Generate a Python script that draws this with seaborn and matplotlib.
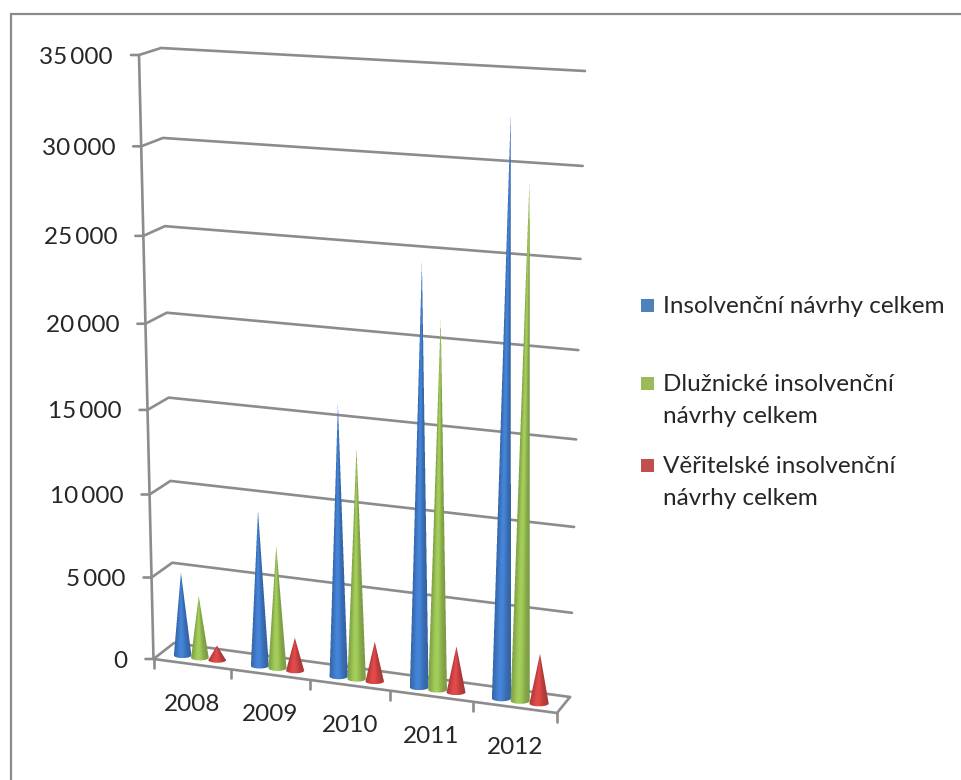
import numpy as np
import pandas as pd
import seaborn as sns
import matplotlib
matplotlib.use("Agg")
import matplotlib.pyplot as plt
from matplotlib.patches import Rectangle

# ---- data ----
years = ["2008", "2009", "2010", "2011", "2012"]
celkem = [5100, 9400, 16100, 24500, 32600]
dluznicke = [3800, 7400, 13700, 21500, 29500]
veritelske = [900, 2000, 2400, 2750, 2950]
series_names = ["Insolvenční návrhy celkem",
                "Dlužnické insolvenční\nnávrhy celkem",
                "Věřitelské insolvenční\nnávrhy celkem"]
y_ticks = [0, 5000, 10000, 15000, 20000, 25000, 30000, 35000]
y_tick_labels = ["0", "5\u2009000", "10\u2009000", "15\u2009000", "20\u2009000",
                 "25\u2009000", "30\u2009000", "35\u2009000"]

# ---- styles ----
COLORS = ["#4F81BD", "#9BBB59", "#C0504D"]
CONE_MID = [(0.26, 0.50, 0.82), (0.62, 0.78, 0.34), (0.86, 0.28, 0.28)]
GRID = "#8c8c8c"
TEXT = "#262626"
VMAX = 35000.0
NCAT = 5

sns.set_theme(style="white")
plt.rcParams["font.family"] = ["Lato", "DejaVu Sans"]

W, H = 961, 780
fig = plt.figure(figsize=(W / 100, H / 100), dpi=100, facecolor="white")
ax = fig.add_axes([0, 0, 1, 1])
ax.set_xlim(0, W)
ax.set_ylim(H, 0)
ax.axis("off")


def homography(dst):
    """Plane (category u, value v) to picture, from its four corners."""
    src = [(0, 0), (0, VMAX), (NCAT, 0), (NCAT, VMAX)]
    A, b = [], []
    for (u, v), (x, y) in zip(src, dst):
        v = v / VMAX
        A.append([u, v, 1, 0, 0, 0, -u * x, -v * x]); b.append(x)
        A.append([0, 0, 0, u, v, 1, -u * y, -v * y]); b.append(y)
    h = np.linalg.solve(np.array(A, float), np.array(b, float))
    return np.append(h, 1).reshape(3, 3)


FRONT = homography([(153.5, 659), (139, 55), (557, 713), (571, 78)])
BACK = homography([(174, 643), (161, 48), (570, 697), (585, 71)])


def project(u, v, depth=0.0):
    """depth 0 = front plane, 1 = back wall."""
    out = []
    for M in (FRONT, BACK):
        p = M @ np.array([u, v / VMAX, 1.0])
        out.append(p[:2] / p[2])
    return (1 - depth) * out[0] + depth * out[1]


# ---- frame of the picture ----
ax.plot([11, 11, W], [H, 14, 14], color="#8a8a8a", lw=1.6, solid_joinstyle="miter")

# ---- walls, floor and ticks as one long table for seaborn ----
rows = []


def add(name, pts):
    for p in pts:
        rows.append({"line": name, "x": p[0], "y": p[1]})


for t in y_ticks:
    add(f"g{t}", [project(0, t, 0) + np.array([-8, 0]), project(0, t, 0),
                  project(0, t, 1), project(NCAT, t, 1)])
add("axis", [project(0, 0, 0), project(0, VMAX, 0)])
add("front", [project(0, 0, 0), project(NCAT, 0, 0), project(NCAT, 0, 1)])
for i in range(NCAT + 1):
    p = project(i, 0, 0)
    add(f"t{i}", [p, p + np.array([0, 9])])
lines = pd.DataFrame(rows)
sns.lineplot(data=lines, x="x", y="y", units="line", estimator=None, sort=False,
             color=GRID, lw=1.9, ax=ax, legend=False, zorder=1)


# ---- cones: shaded across their width, sampled finer than a pixel ----
SS = 4


def cone(u, value, rgb, z):
    depth = 0.40
    base = project(u, 0, depth)
    tip = project(u, value, depth)
    a = (project(u + 0.115, 0, depth) - project(u - 0.115, 0, depth)) / 2
    hw = a[0]
    b = 0.3 * hw
    x0 = int(np.floor(min(tip[0], base[0] - hw))) - 2
    x1 = int(np.ceil(max(tip[0], base[0] + hw))) + 2
    y0 = int(np.floor(tip[1])) - 1
    y1 = int(np.ceil(base[1] + b)) + 2
    xs = x0 + (np.arange((x1 - x0) * SS) + 0.5) / SS
    ys = y0 + (np.arange((y1 - y0) * SS) + 0.5) / SS
    X, Y = np.meshgrid(xs, ys)
    t = (Y - tip[1]) / (base[1] - tip[1])
    xc = tip[0] + (base[0] - tip[0]) * np.clip(t, 0, 1)
    dx = X - xc
    width = hw * np.clip(t, 1e-6, None)
    c = np.clip(dx / width, -1, 1)
    above = (Y >= tip[1]) & (Y <= base[1]) & (np.abs(dx) <= width)
    ell = ((X - base[0]) / hw) ** 2 + ((Y - base[1]) / b) ** 2 <= 1
    mask = above | ell
    light = 0.78 + 0.26 * np.exp(-((c + 0.15) / 0.6) ** 2)
    rgba = np.zeros(mask.shape + (4,))
    for k in range(3):
        rgba[..., k] = np.minimum(1, rgb[k] * light) * mask
    rgba[..., 3] = mask
    h, w = y1 - y0, x1 - x0
    rgba = rgba.reshape(h, SS, w, SS, 4).mean(axis=(1, 3))
    al = rgba[..., 3:]
    rgba[..., :3] = np.where(al > 0, rgba[..., :3] / np.maximum(al, 1e-6), 0)
    ax.imshow(rgba, extent=(x0, x1, y1, y0), origin="upper", aspect="auto",
              interpolation="nearest", zorder=z)


offsets = [-0.225, 0.0, 0.225]
for s, values in enumerate([celkem, dluznicke, veritelske]):
    for i, val in enumerate(values):
        cone(i + 0.5 + offsets[s], val, CONE_MID[s], 3 + s + i * 3)

ax.set_xlim(0, W)
ax.set_ylim(H, 0)
ax.axis("off")

# ---- tick labels ----
FS = 17.5
for t, lab in zip(y_ticks, y_tick_labels):
    p = project(0, t, 0)
    ax.text(p[0] - 26, p[1] + 2, lab, ha="right", va="center", fontsize=FS, color=TEXT)
for i, lab in enumerate(years):
    p = project(i + 0.5, 0, 0)
    ax.text(p[0], p[1] + 40, lab, ha="center", va="center", fontsize=FS, color=TEXT)

# ---- legend ----
LEG_Y = [305, 383, 465]
for name, col, y in zip(series_names, COLORS, LEG_Y):
    ax.add_patch(Rectangle((641, y - 6.5), 13, 13, facecolor=col, edgecolor="none", zorder=30))
    ax.text(663, y - 9, name, ha="left", va="top", fontsize=FS, color=TEXT,
            linespacing=1.65)

fig.savefig("out.png", dpi=100, facecolor="white")
